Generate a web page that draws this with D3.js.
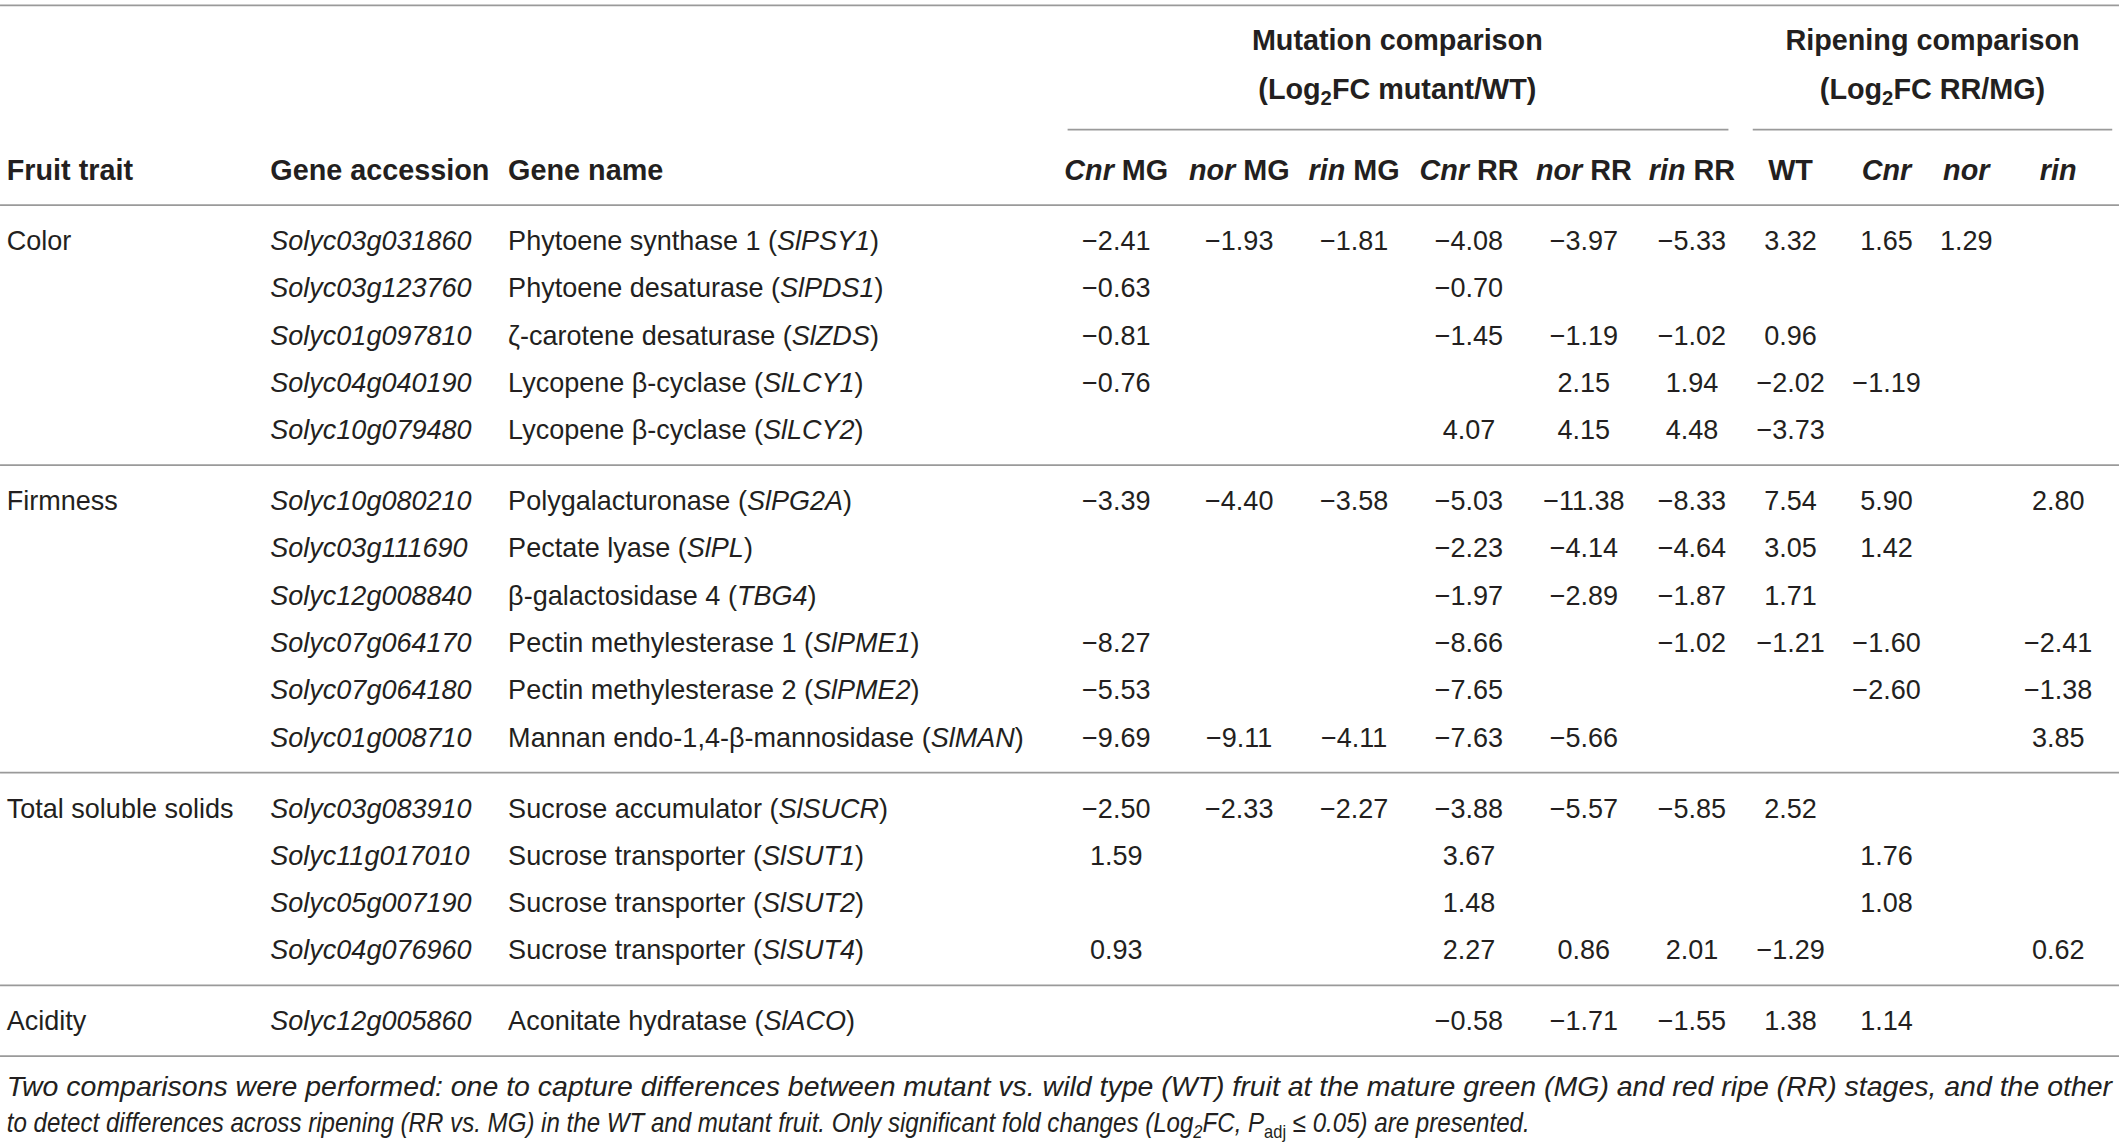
<!DOCTYPE html>
<html>
<head>
<meta charset="utf-8">
<script src="https://cdn.jsdelivr.net/npm/d3@7"></script>
<style>
  body { margin: 0; background: #fff; }
  svg { display: block; }
</style>
</head>
<body>
<svg id="chart"></svg>
<script>
// table content
const fruitTraits = ["Color", "Firmness", "Total soluble solids", "Acidity"];
const traitGeneCounts = [5, 6, 4, 1];

const geneAccessions = [
  "Solyc03g031860", "Solyc03g123760", "Solyc01g097810", "Solyc04g040190", "Solyc10g079480",
  "Solyc10g080210", "Solyc03g111690", "Solyc12g008840", "Solyc07g064170", "Solyc07g064180",
  "Solyc01g008710", "Solyc03g083910", "Solyc11g017010", "Solyc05g007190", "Solyc04g076960",
  "Solyc12g005860"
];
const geneNames = [
  "Phytoene synthase 1", "Phytoene desaturase", "ζ-carotene desaturase", "Lycopene β-cyclase",
  "Lycopene β-cyclase", "Polygalacturonase", "Pectate lyase", "β-galactosidase 4",
  "Pectin methylesterase 1", "Pectin methylesterase 2", "Mannan endo-1,4-β-mannosidase",
  "Sucrose accumulator", "Sucrose transporter", "Sucrose transporter", "Sucrose transporter",
  "Aconitate hydratase"
];
const geneSymbols = [
  "SlPSY1", "SlPDS1", "SlZDS", "SlLCY1", "SlLCY2", "SlPG2A", "SlPL", "TBG4", "SlPME1",
  "SlPME2", "SlMAN", "SlSUCR", "SlSUT1", "SlSUT2", "SlSUT4", "SlACO"
];

const groupTitles = ["Mutation comparison", "Ripening comparison"];
const groupUnits = [["(Log", "2", "FC mutant/WT)"], ["(Log", "2", "FC RR/MG)"]];
// [italic part, plain part]
const columnHeaders = [
  ["Cnr", " MG"], ["nor", " MG"], ["rin", " MG"], ["Cnr", " RR"], ["nor", " RR"], ["rin", " RR"],
  ["", "WT"], ["Cnr", ""], ["nor", ""], ["rin", ""]
];

// Log2FC, columns follow columnHeaders
const log2fc = [
  [-2.41, -1.93, -1.81, -4.08, -3.97, -5.33, 3.32, 1.65, 1.29, null],
  [-0.63, null, null, -0.70, null, null, null, null, null, null],
  [-0.81, null, null, -1.45, -1.19, -1.02, 0.96, null, null, null],
  [-0.76, null, null, null, 2.15, 1.94, -2.02, -1.19, null, null],
  [null, null, null, 4.07, 4.15, 4.48, -3.73, null, null, null],
  [-3.39, -4.40, -3.58, -5.03, -11.38, -8.33, 7.54, 5.90, null, 2.80],
  [null, null, null, -2.23, -4.14, -4.64, 3.05, 1.42, null, null],
  [null, null, null, -1.97, -2.89, -1.87, 1.71, null, null, null],
  [-8.27, null, null, -8.66, null, -1.02, -1.21, -1.60, null, -2.41],
  [-5.53, null, null, -7.65, null, null, null, -2.60, null, -1.38],
  [-9.69, -9.11, -4.11, -7.63, -5.66, null, null, null, null, 3.85],
  [-2.50, -2.33, -2.27, -3.88, -5.57, -5.85, 2.52, null, null, null],
  [1.59, null, null, 3.67, null, null, null, 1.76, null, null],
  [null, null, null, 1.48, null, null, null, 1.08, null, null],
  [0.93, null, null, 2.27, 0.86, 2.01, -1.29, null, null, 0.62],
  [null, null, null, -0.58, -1.71, -1.55, 1.38, 1.14, null, null]
];

const footnoteLine1 = "Two comparisons were performed: one to capture differences between mutant vs. wild type (WT) fruit at the mature green (MG) and red ripe (RR) stages, and the other";
const footnoteLine2 = ["to detect differences across ripening (RR vs. MG) in the WT and mutant fruit. Only significant fold changes (Log", "2", "FC, ", "P", "adj", " ≤ 0.05) are presented."];

// drawing
const W = 1568, H = 849.5;
const svg = d3.select("#chart")
  .attr("width", 2119)
  .attr("height", 1148)
  .attr("viewBox", `0 0 ${W} ${H}`);

const font = "'Liberation Sans', Arial, Helvetica, sans-serif";
const ink = "#231f20";
const ruleColor = "#9a9a9a";
const bodySize = 20;
const headSize = 21.3;

// row index -> y, groups get half a row of extra space
const rowGroup = [];
traitGeneCounts.forEach((n, g) => { for (let k = 0; k < n; k++) rowGroup.push(g); });
const groupStart = d3.cumsum([0, ...traitGeneCounts]);
const nRows = geneAccessions.length;
const gap = 0.5;
const span = nRows - 1 + gap * (fruitTraits.length - 1);
const y = d3.scaleLinear().domain([0, span]).range([178, 178 + 35 * span]);
const rowY = (i) => y(i + rowGroup[i] * gap);

const x = d3.scaleOrdinal()
  .domain(columnHeaders.map((d, i) => i))
  .range([826, 917, 1002, 1087, 1172, 1252, 1325, 1396, 1455, 1523]);
const textCols = { trait: 5, accession: 200, name: 376 };

const fmt = (v) => d3.format(".2f")(v).replace("-", "–");

const g = svg.append("g")
  .style("font-family", font)
  .style("fill", ink);

function rule(x1, x2, yy) {
  svg.append("line")
    .attr("x1", x1).attr("x2", x2)
    .attr("y1", yy).attr("y2", yy)
    .style("stroke", ruleColor)
    .style("stroke-width", 1.3);
}

// horizontal rules
rule(0, W, 4);
rule(790, 1279, 96);
rule(1297, 1563, 96);
rule(0, W, y(-0.75));
for (let k = 1; k < fruitTraits.length; k++) {
  const last = groupStart[k] - 1;
  rule(0, W, (rowY(last) + rowY(last + 1)) / 2);
}
rule(0, W, rowY(nRows - 1) + 26);

// group titles
const groupCenters = [1034, 1430];
groupTitles.forEach((t, k) => {
  g.append("text")
    .attr("x", groupCenters[k]).attr("y", 37)
    .attr("text-anchor", "middle")
    .style("font-size", headSize + "px").style("font-weight", "bold")
    .text(t);
  const u = g.append("text")
    .attr("x", groupCenters[k]).attr("y", 73)
    .attr("text-anchor", "middle")
    .style("font-size", headSize + "px").style("font-weight", "bold");
  u.append("tspan").text(groupUnits[k][0]);
  u.append("tspan").attr("dy", 5).style("font-size", "15px").text(groupUnits[k][1]);
  u.append("tspan").attr("dy", -5).text(groupUnits[k][2]);
});

// column headers
const headY = 133;
[["Fruit trait", textCols.trait], ["Gene accession", textCols.accession], ["Gene name", textCols.name]]
  .forEach(([t, xx]) => {
    g.append("text")
      .attr("x", xx).attr("y", headY)
      .style("font-size", headSize + "px").style("font-weight", "bold")
      .text(t);
  });

g.selectAll(".colhead")
  .data(columnHeaders)
  .join("text")
  .attr("class", "colhead")
  .attr("x", (d, i) => x(i))
  .attr("y", headY)
  .attr("text-anchor", "middle")
  .style("font-size", headSize + "px")
  .style("font-weight", "bold")
  .each(function (d) {
    const t = d3.select(this);
    if (d[0]) t.append("tspan").style("font-style", "italic").text(d[0]);
    if (d[1]) t.append("tspan").text(d[1]);
  });

// body
const baseOff = 7;
g.selectAll(".trait")
  .data(fruitTraits)
  .join("text")
  .attr("class", "trait")
  .attr("x", textCols.trait)
  .attr("y", (d, k) => rowY(groupStart[k]) + baseOff)
  .style("font-size", bodySize + "px")
  .text((d) => d);

g.selectAll(".acc")
  .data(geneAccessions)
  .join("text")
  .attr("class", "acc")
  .attr("x", textCols.accession)
  .attr("y", (d, i) => rowY(i) + baseOff)
  .style("font-size", bodySize + "px")
  .style("font-style", "italic")
  .text((d) => d);

g.selectAll(".gname")
  .data(geneNames)
  .join("text")
  .attr("class", "gname")
  .attr("x", textCols.name)
  .attr("y", (d, i) => rowY(i) + baseOff)
  .style("font-size", bodySize + "px")
  .each(function (d, i) {
    const t = d3.select(this);
    t.append("tspan").text(d + " (");
    t.append("tspan").style("font-style", "italic").text(geneSymbols[i]);
    t.append("tspan").text(")");
  });

const cells = [];
log2fc.forEach((row, i) => row.forEach((v, j) => { if (v !== null) cells.push({ i, j, v }); }));

g.selectAll(".val")
  .data(cells)
  .join("text")
  .attr("class", "val")
  .attr("x", (d) => x(d.j))
  .attr("y", (d) => rowY(d.i) + baseOff)
  .attr("text-anchor", "middle")
  .style("font-size", bodySize + "px")
  .text((d) => fmt(d.v));

// footnote: condensed italic, squeezed to the reference line widths
function squeeze(sel, x0, yy, width) {
  const w = sel.node().getComputedTextLength();
  sel.attr("transform", `translate(${x0},${yy}) scale(${width / w},1)`);
}

const f1 = g.append("text")
  .style("font-size", "20.5px").style("font-style", "italic")
  .text(footnoteLine1);
squeeze(f1, 5, 811, 1558);

const f2 = g.append("text")
  .style("font-size", "20.5px").style("font-style", "italic");
f2.append("tspan").text(footnoteLine2[0]);
f2.append("tspan").attr("dy", 4).style("font-size", "14px").text(footnoteLine2[1]);
f2.append("tspan").attr("dy", -4).text(footnoteLine2[2]);
f2.append("tspan").text(footnoteLine2[3]);
f2.append("tspan").attr("dy", 4).style("font-size", "14px").style("font-style", "normal").text(footnoteLine2[4]);
f2.append("tspan").attr("dy", -4).text(footnoteLine2[5]);
squeeze(f2, 5, 838, 1127);
</script>
</body>
</html>
